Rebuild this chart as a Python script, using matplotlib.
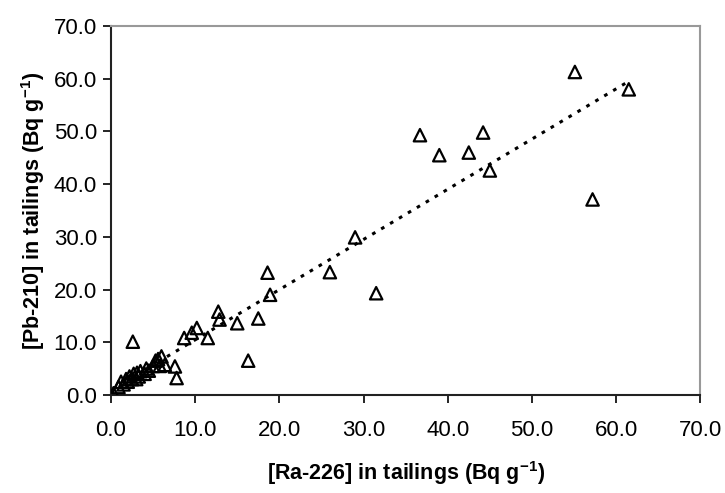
import numpy as np
import matplotlib.pyplot as plt

plt.rcParams['font.family'] = ['Liberation Sans', 'DejaVu Sans']
plt.rcParams['mathtext.fontset'] = 'custom'
plt.rcParams['mathtext.rm'] = 'Liberation Sans'
plt.rcParams['mathtext.bf'] = 'Liberation Sans:bold'

# Ra-226 vs Pb-210 in tailings (Bq/g)
ra226 = [0.3, 0.9, 1.2, 1.5, 1.8, 2.0, 2.2, 2.5, 2.6, 2.7, 3.0, 3.1, 3.3, 3.5, 4.0,
         4.2, 4.5, 5.0, 5.3, 5.6, 5.8, 6.0, 6.4, 7.6, 7.8,
         8.7, 9.6, 10.2, 11.5, 12.75, 12.9, 15.0, 16.3, 17.5, 18.6, 18.9,
         26.0, 29.0, 31.5, 36.7, 39.0, 42.5, 44.2, 45.0, 55.1, 57.2, 61.5]
pb210 = [0.3, 1.5, 2.5, 2.0, 3.0, 2.5, 3.5, 3.0, 10.1, 4.0, 3.0, 4.2, 3.5, 4.5, 4.0,
         5.0, 4.6, 5.5, 6.5, 6.8, 5.5, 7.3, 5.7, 5.4, 3.2,
         10.8, 11.8, 12.7, 10.8, 15.8, 14.3, 13.6, 6.5, 14.5, 23.2, 19.0,
         23.3, 29.9, 19.3, 49.3, 45.5, 46.0, 49.8, 42.6, 61.3, 37.1, 58.0]

x = np.array(ra226)
y = np.array(pb210)
slope, intercept = np.polyfit(x, y, 1)
xfit = np.array([x.min(), x.max()])

fig = plt.figure(figsize=(7.25, 4.93), dpi=100)
ax = fig.add_axes([0.153, 0.199, 0.813, 0.748])

ax.scatter(x, y, marker='^', s=80, facecolors='none', edgecolors='black', linewidths=1.6, zorder=3)
ax.plot(xfit, slope * xfit + intercept, color='black', linestyle=(0, (1.2, 2.2)), linewidth=2.2, zorder=2)

ax.set_xlim(0, 70)
ax.set_ylim(0, 70)
ticks = np.arange(0, 71, 10)
ax.set_xticks(ticks)
ax.set_yticks(ticks)
ax.set_xticklabels([f'{t:.1f}' for t in ticks])
ax.set_yticklabels([f'{t:.1f}' for t in ticks])
ax.tick_params(direction='out', length=6, width=1.2, labelsize=16, pad=12)
ax.tick_params(axis='y', pad=4)

for side in ['left', 'bottom']:
    ax.spines[side].set_color('#222222')
    ax.spines[side].set_linewidth(1.5)
for side in ['top', 'right']:
    ax.spines[side].set_color('#999999')
    ax.spines[side].set_linewidth(1.5)

ax.set_xlabel(r'[Ra-226] in tailings (Bq g$^{\mathbf{-1}}$)', fontsize=15.5, fontweight='bold', labelpad=13)
ax.set_ylabel(r'[Pb-210] in tailings (Bq g$^{\mathbf{-1}}$)', fontsize=15.5, fontweight='bold', labelpad=5)

fig.savefig('out.png', dpi=100)
